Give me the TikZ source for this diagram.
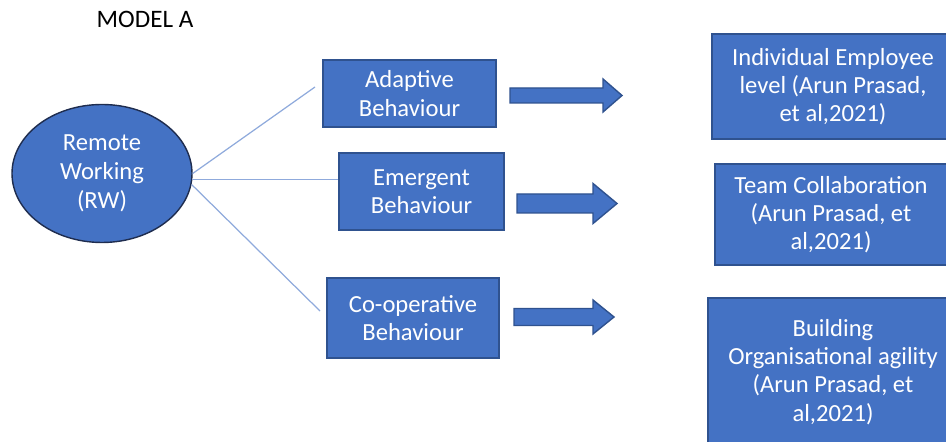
\documentclass[tikz,border=0pt]{standalone}
\usepackage{fontspec}
\setmainfont{Carlito}
\usetikzlibrary{shapes.geometric}
\definecolor{boxblue}{HTML}{4472C4}
\definecolor{boxline}{HTML}{2F528F}
\definecolor{rwline}{HTML}{1F2D4F}
\definecolor{linkblue}{HTML}{8FAADC}
\tikzset{
  bhbox/.style={rectangle, draw=boxline, line width=0.8pt, fill=boxblue, text=white, align=center, font=\fontsize{14}{16}\selectfont, inner sep=0pt},
  link/.style={draw=linkblue, line width=0.7pt},
  blockarrow/.style={draw=boxline, line width=0.8pt, fill=boxblue}
}
\begin{document}
\begin{tikzpicture}
\path [use as bounding box, clip] (0,0) rectangle (18.92,8.84);

\node (title) at (2.9,8.46) {\fontsize{14.3}{16}\selectfont MODEL A};

\node [ellipse, draw=rwline, line width=0.8pt, fill=boxblue, text=white, align=center, font=\fontsize{14}{16.5}\selectfont, minimum width=3.6cm, minimum height=2.76cm, inner sep=0pt] (rw) at (2.04,5.37) {Remote\\Working\\(RW)};

\node [bhbox, minimum width=3.46cm, minimum height=1.34cm] (adaptive) at (8.19,6.97) {Adaptive\\Behaviour};
\node [bhbox, minimum width=3.3cm, minimum height=1.54cm] (emergent) at (8.43,5.01) {Emergent\\Behaviour};
\node [bhbox, minimum width=3.44cm, minimum height=1.6cm] (cooperative) at (8.26,2.48) {Co-operative\\Behaviour};

\node [bhbox, minimum width=4.84cm, minimum height=2.1cm] (individual) at (16.66,7.11) {Individual Employee\\level (Arun Prasad,\\et al,2021)};
\node [bhbox, minimum width=4.64cm, minimum height=2.02cm] (team) at (16.62,4.55) {Team Collaboration\\(Arun Prasad, et\\al,2021)};
\node [bhbox, minimum width=5cm, minimum height=2.96cm] (agility) at (16.66,1.4) {Building\\Organisational agility\\(Arun Prasad, et\\al,2021)};

\coordinate (adaptive-end) at (6.3,7.1);
\coordinate (cooperative-end) at (6.4,2.62);
\draw [link] (rw.east) -- (adaptive-end);
\draw [link] (rw.-4) -- (rw.-4 -| emergent.west);
\draw [link] (rw.-7) -- (cooperative-end);

\foreach \x/\y/\m/\t/\s/\h in {10.2/6.93/12.06/12.44/0.15/0.33, 10.34/4.77/11.86/12.34/0.19/0.40, 10.28/2.5/11.86/12.28/0.17/0.34}
  \draw [blockarrow] (\x,\y-\s) -- (\m,\y-\s) -- (\m,\y-\h) -- (\t,\y) -- (\m,\y+\h) -- (\m,\y+\s) -- (\x,\y+\s) -- cycle;
\end{tikzpicture}
\end{document}
